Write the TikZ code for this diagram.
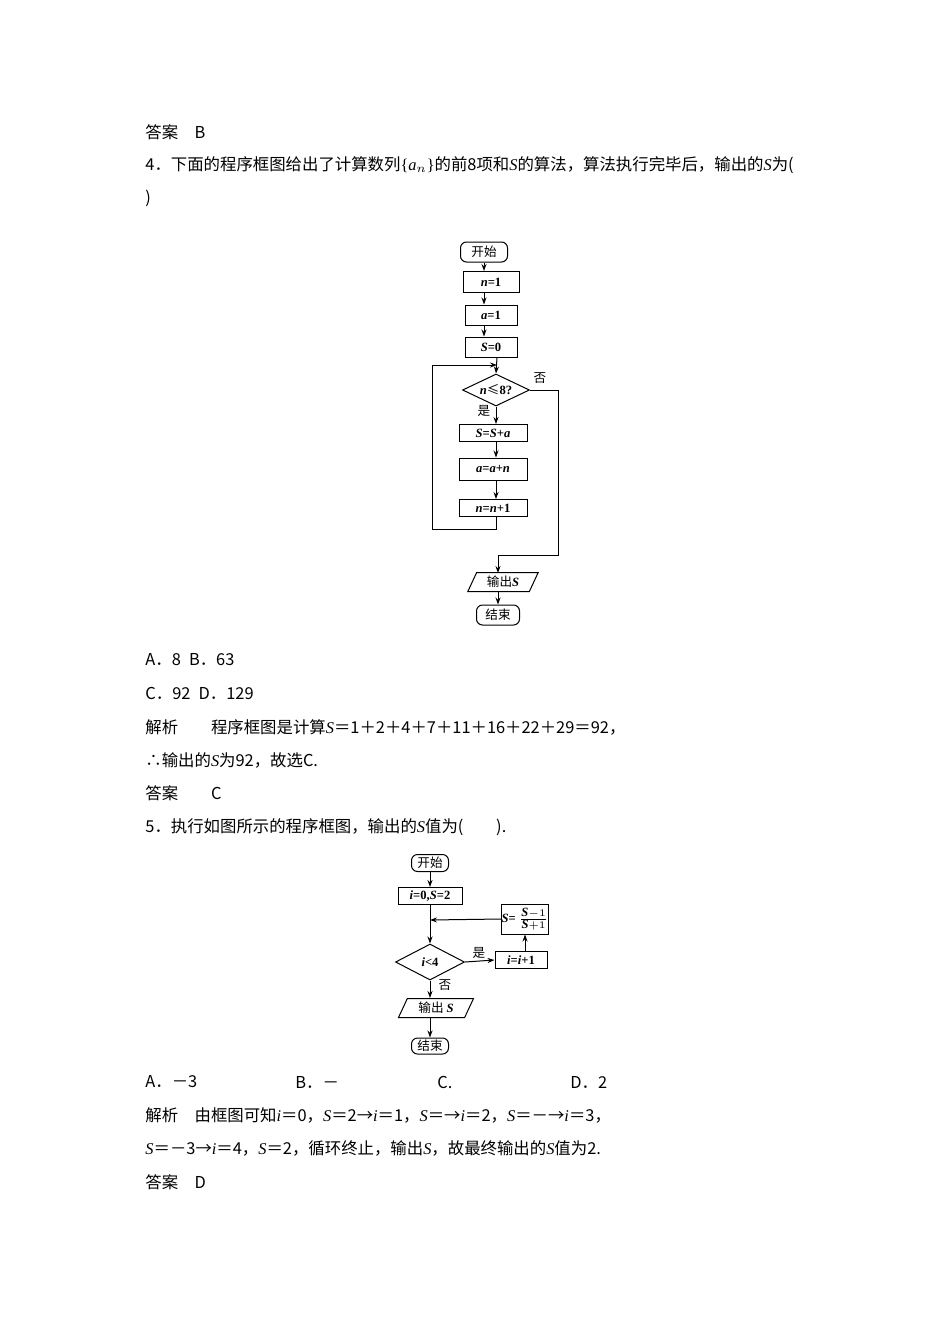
\documentclass[tikz,border=0pt]{standalone}
\usepackage{fontspec}
\setmainfont{Noto Sans CJK SC}
\newfontfamily\lat{Liberation Serif}
\usetikzlibrary{shapes.geometric,arrows.meta}
\newcommand{\vi}[1]{{\lat\itshape #1}}
\newcommand{\vb}[1]{{\lat\bfseries\itshape #1}}
\begin{document}
\begin{tikzpicture}[x=0.5pt,y=-0.5pt,
  txt/.style={anchor=west,inner sep=0pt,font=\fontsize{8.2}{9}\selectfont},
  fc/.style={draw,line width=0.5pt,inner sep=0pt,font=\fontsize{6.3}{7}\selectfont\lat\bfseries},
  term/.style={fc,rounded corners=3pt},
  box/.style={fc},
  dia/.style={fc,diamond,aspect=2.1},
  io/.style={fc,trapezium,trapezium left angle=65,trapezium right angle=115},
  arr/.style={line width=0.5pt,-{Stealth[length=3.5pt,width=2.5pt]}},
  ln/.style={line width=0.5pt},
  lab/.style={inner sep=0pt,font=\fontsize{6.3}{7}\selectfont}]
\useasboundingbox (0,0) rectangle (950,1344);
% text
\node[txt] (t1) at (145,132) {答案\quad B};
\node[txt] (t2) at (145,165) {4．下面的程序框图给出了计算数列{\lat\{\itshape a\upshape$_n$\}}的前8项和\vi{S}的算法，算法执行完毕后，输出的\vi{S}为(};
\node[txt] (t3) at (145,198) {)};
\node[txt] (t4) at (145,660) {A．8\enspace B．63};
\node[txt] (t5) at (145,693) {C．92\enspace D．129};
\node[txt] (t6) at (145,727) {解析\qquad 程序框图是计算\vi{S}＝1＋2＋4＋7＋11＋16＋22＋29＝92，};
\node[txt] (t7) at (145,760) {∴输出的\vi{S}为92，故选C.};
\node[txt] (t8) at (145,793) {答案\qquad C};
\node[txt] (t9) at (145,827) {5．执行如图所示的程序框图，输出的\vi{S}值为(\qquad ).};
\node[txt] (a1) at (145,1082) {A．－3};
\node[txt] (a2) at (295,1082) {B．－};
\node[txt] (a3) at (437,1082) {C.};
\node[txt] (a4) at (570,1082) {D．2};
\node[txt] (t10) at (145,1115) {解析\quad 由框图可知\vi{i}＝0，\vi{S}＝2→\vi{i}＝1，\vi{S}＝→\vi{i}＝2，\vi{S}＝－→\vi{i}＝3，};
\node[txt] (t11) at (145,1148) {\vi{S}＝－3→\vi{i}＝4，\vi{S}＝2，循环终止，输出\vi{S}，故最终输出的\vi{S}值为2.};
\node[txt] (t12) at (145,1182) {答案\quad D};
% flowchart 1
\node[term,minimum width=23.5pt,minimum height=10pt] (s1) at (484,252) {\normalfont 开始};
\node[box,minimum width=28pt,minimum height=10.5pt] (n1) at (491,282) {\vb{n}=1};
\node[box,minimum width=26pt,minimum height=10pt] (a1b) at (491,315) {\vb{a}=1};
\node[box,minimum width=26pt,minimum height=10pt] (s0) at (491,347) {\vb{S}=0};
\coordinate (j1) at (497,365);
\node[dia,minimum width=33.5pt,minimum height=16pt] (d1) at (496,390) {\vb{n}{\normalfont ≤}8?};
\node[box,minimum width=34pt,minimum height=8.5pt] (b1) at (493,433) {\vb{S}=\vb{S}+\vb{a}};
\node[box,minimum width=34pt,minimum height=11pt] (b2) at (493,469) {\vb{a}=\vb{a}+\vb{n}};
\node[box,minimum width=34pt,minimum height=8.5pt] (b3) at (493,508) {\vb{n}=\vb{n}+1};
\node[io,minimum width=30pt,minimum height=9.5pt] (o1) at (503,582) {\normalfont 输出\vb{S}};
\node[term,minimum width=21.5pt,minimum height=10pt] (e1) at (498,615) {\normalfont 结束};
\draw[arr] (s1.south) -- (s1.south|-n1.north);
\draw[arr] (s1.south|-n1.south) -- (s1.south|-a1b.north);
\draw[arr] (s1.south|-a1b.south) -- (s1.south|-s0.north);
\draw[arr] (s0.south-|j1) -- (d1.north);
\draw[arr] (d1.south) -- (d1.south|-b1.north);
\draw[arr] (d1.south|-b1.south) -- (d1.south|-b2.north);
\draw[arr] (d1.south|-b2.south) -- (d1.south|-b3.north);
\draw[ln] (d1.south|-b3.south) -- ++(0,12) -| (432,365);
\draw[arr] (432,365) -- (j1);
\draw[ln] (d1.east) -- (558,390) -- (558,555) -- (498,555);
\draw[arr] (498,555) -- (498,573);
\draw[arr] (498,591) -- (e1.north);
\node[lab] (no1) at (540,378) {否};
\node[lab] (yes1) at (484,411) {是};
% flowchart 2
\node[term,minimum width=18.5pt,minimum height=8.5pt] (s2) at (430,863) {\normalfont 开始};
\node[box,minimum width=32pt,minimum height=8.5pt] (i0) at (430,896) {\vb{i}=0,\vb{S}=2};
\coordinate (j2) at (430,920);
\node[dia,minimum width=34.5pt,minimum height=18pt] (d2) at (430,962) {\vb{i}<4};
\node[box,minimum width=26pt,minimum height=8.5pt] (ii) at (521,960) {\vb{i}=\vb{i}+1};
\node[box,minimum width=21.5pt,minimum height=15pt] (sf) at (525,919) {\vb{S}= $\frac{\hbox{\vb{S}}-1}{\hbox{\vb{S}}+1}$};
\node[io,minimum width=30pt,minimum height=9.5pt] (o2) at (436,1008) {\normalfont 输出 \vb{S}};
\node[term,minimum width=18.5pt,minimum height=8pt] (e2) at (430,1046) {\normalfont 结束};
\draw[arr] (s2) -- (i0);
\draw[arr] (i0) -- (d2.north);
\draw[arr] (d2.east) -- (ii.west);
\draw[arr] (ii.north-|sf) -- (sf.south);
\draw[arr] (sf.west) -- (j2);
\draw[arr] (d2.south) -- (d2.south|-o2.north);
\draw[arr] (d2.south|-o2.south) -- (e2.north);
\node[lab] (yes2) at (479,953) {是};
\node[lab] (no2) at (445,985) {否};
\end{tikzpicture}
\end{document}
